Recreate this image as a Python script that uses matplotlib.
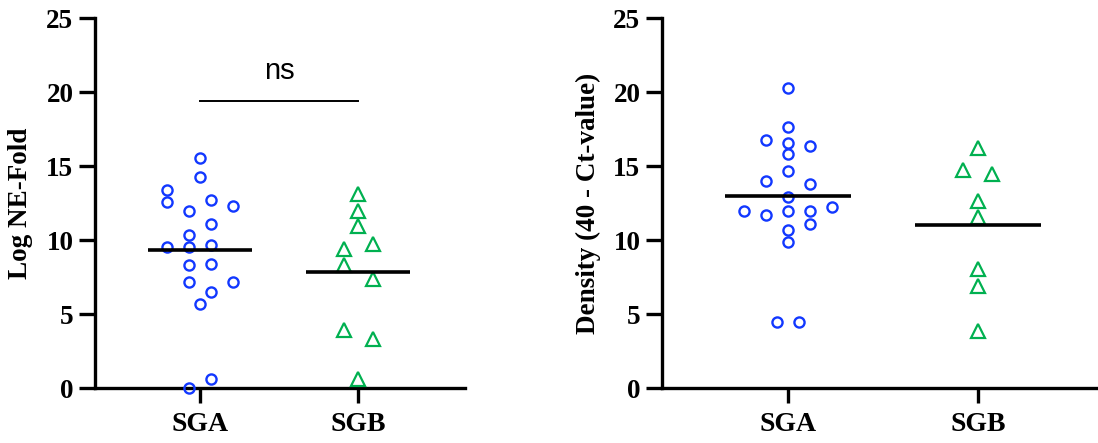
import matplotlib.pyplot as plt

groups = ['SGA', 'SGB']

# left panel: Log NE-Fold
ne_sga = [15.52, 14.28, 13.38, 12.59, 12.70, 12.30, 11.96, 11.08, 10.34, 9.50,
          9.50, 9.66, 8.31, 8.38, 7.18, 7.18, 6.49, 5.70, 0.02, 0.59]
ne_sgb = [13.13, 11.95, 10.92, 9.40, 9.70, 8.34, 7.38, 3.94, 3.32, 0.62]

# right panel: Density (40 - Ct-value)
ct_sga = [20.25, 17.66, 16.76, 16.58, 16.37, 15.79, 14.68, 13.99, 13.76, 12.88,
          11.98, 11.69, 11.98, 11.98, 12.21, 11.08, 10.68, 9.89, 4.48, 4.48]
ct_sgb = [16.23, 14.74, 14.45, 12.62, 11.54, 8.05, 6.86, 3.84]

# scatter columns (layout only, like GraphPad's point arrangement)
ne_sga_cols = [0, 0, -3, -3, 1, 3, -1, 1, -1, -3, -1, 1, -1, 1, -1, 3, 1, 0, -1, 1]
ne_sgb_cols = [0, 0, 0, -1, 1, -1, 1, -1, 1, 0]
ct_sga_cols = [0, 0, -2, 0, 2, 0, 0, -2, 2, 0, -4, -2, 0, 2, 4, 2, 0, 0, -1, 1]
ct_sgb_cols = [0, -1, 1, 0, 0, 0, 0, 0]

blue = '#1238ff'
green = '#00b050'
serif = 'Liberation Serif'

fig = plt.figure(figsize=(10.98, 4.43), dpi=100)
ax1 = fig.add_axes([95 / 1098, 55 / 443, 370 / 1098, 370 / 443])
ax2 = fig.add_axes([662 / 1098, 55 / 443, 436 / 1098, 370 / 443])


def draw(ax, a, b, a_cols, b_cols, px_per_unit, ylabel, label_x):
    step_a = 11 / px_per_unit
    step_b = 14.5 / px_per_unit
    ax.plot([c * step_a for c in a_cols], a, 'o', ms=7.3, mfc='none',
            mec=blue, mew=1.7, clip_on=False, zorder=3)
    ax.plot([1 + c * step_b for c in b_cols], b, '^', ms=9.8, mfc='none',
            mec=green, mew=1.6, clip_on=False, zorder=3)
    for i, vals in enumerate([a, b]):
        m = sum(vals) / len(vals)
        ax.plot([i - 0.33, i + 0.33], [m, m], color='black', lw=2.6, zorder=4,
                solid_capstyle='butt')
    ax.set_ylim(0, 25)
    ax.set_yticks([0, 5, 10, 15, 20, 25])
    ax.set_xticks([0, 1])
    ax.set_xticklabels(groups)
    for s in ['top', 'right']:
        ax.spines[s].set_visible(False)
    for s in ['left', 'bottom']:
        ax.spines[s].set_linewidth(2.4)
    ax.tick_params(axis='y', length=11.5, width=2.4, pad=4, labelsize=19.5)
    ax.tick_params(axis='x', length=11, width=2.4, pad=6, labelsize=20)
    for t in ax.get_xticklabels() + ax.get_yticklabels():
        t.set_fontfamily(serif)
        t.set_fontweight('bold')
    ax.set_ylabel(ylabel, fontsize=19.5, fontweight='bold', fontfamily=serif)
    ax.yaxis.set_label_coords(label_x, 0.5)


draw(ax1, ne_sga, ne_sgb, ne_sga_cols, ne_sgb_cols, 158.3, 'Log NE-Fold', -0.168)
ax1.set_xlim(-0.663, 1.675)
draw(ax2, ct_sga, ct_sgb, ct_sga_cols, ct_sgb_cols, 190, 'Density (40 - Ct-value)', -0.14)
ax2.set_xlim(-0.662, 1.632)

# significance bar
ax1.plot([0, 1], [19.41, 19.41], color='black', lw=1.4)
ax1.text(0.5, 20.86, 'ns', ha='center', va='baseline', fontsize=21,
         fontfamily='Liberation Sans')

fig.savefig('out.png', dpi=100)
